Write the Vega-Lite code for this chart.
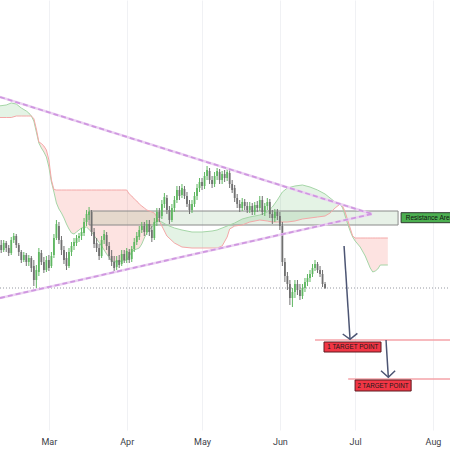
{
"$schema":"https://vega.github.io/schema/vega-lite/v6.json",
"width":450,"height":430,
"padding":{"left":0,"top":0,"right":0,"bottom":20},
"autosize":{"type":"none"},
"background":"#ffffff",
"config":{"view":{"stroke":null},"scale":{"continuousPadding":0}},
"datasets":{
"cd":[
{"d":"2024/02/11","o":179,"h":184,"l":171,"c":174},
{"d":"2024/02/12","o":174,"h":184,"l":172,"c":181},
{"d":"2024/02/13","o":181,"h":183,"l":172,"c":176},
{"d":"2024/02/14","o":176,"h":179,"l":168,"c":171},
{"d":"2024/02/15","o":171,"h":187,"l":169,"c":184},
{"d":"2024/02/16","o":184,"h":191,"l":181,"c":188},
{"d":"2024/02/17","o":188,"h":190,"l":176,"c":179},
{"d":"2024/02/18","o":179,"h":181,"l":168,"c":172},
{"d":"2024/02/19","o":172,"h":174,"l":161,"c":164},
{"d":"2024/02/20","o":164,"h":172,"l":162,"c":169},
{"d":"2024/02/21","o":169,"h":171,"l":158,"c":162},
{"d":"2024/02/22","o":162,"h":169,"l":158,"c":166},
{"d":"2024/02/23","o":166,"h":168,"l":152,"c":156},
{"d":"2024/02/24","o":158,"h":164,"l":138,"c":144},
{"d":"2024/02/25","o":144,"h":159,"l":136,"c":154},
{"d":"2024/02/26","o":152,"h":176,"l":148,"c":172},
{"d":"2024/02/27","o":171,"h":174,"l":159,"c":162},
{"d":"2024/02/28","o":162,"h":167,"l":151,"c":154},
{"d":"2024/02/29","o":154,"h":168,"l":152,"c":164},
{"d":"2024/03/01","o":164,"h":169,"l":153,"c":156},
{"d":"2024/03/02","o":158,"h":172,"l":156,"c":168},
{"d":"2024/03/03","o":169,"h":190,"l":166,"c":186},
{"d":"2024/03/04","o":186,"h":204,"l":184,"c":200},
{"d":"2024/03/05","o":198,"h":202,"l":180,"c":184},
{"d":"2024/03/06","o":184,"h":188,"l":169,"c":174},
{"d":"2024/03/07","o":174,"h":178,"l":160,"c":164},
{"d":"2024/03/08","o":166,"h":172,"l":154,"c":158},
{"d":"2024/03/09","o":158,"h":176,"l":156,"c":172},
{"d":"2024/03/10","o":172,"h":182,"l":168,"c":178},
{"d":"2024/03/11","o":178,"h":186,"l":174,"c":182},
{"d":"2024/03/12","o":181,"h":189,"l":178,"c":186},
{"d":"2024/03/13","o":186,"h":191,"l":182,"c":188},
{"d":"2024/03/14","o":188,"h":196,"l":184,"c":192},
{"d":"2024/03/15","o":191,"h":206,"l":188,"c":202},
{"d":"2024/03/16","o":202,"h":214,"l":198,"c":210},
{"d":"2024/03/17","o":209,"h":217,"l":204,"c":212},
{"d":"2024/03/18","o":212,"h":214,"l":188,"c":192},
{"d":"2024/03/19","o":192,"h":196,"l":176,"c":180},
{"d":"2024/03/20","o":181,"h":186,"l":172,"c":176},
{"d":"2024/03/21","o":176,"h":180,"l":164,"c":168},
{"d":"2024/03/22","o":168,"h":188,"l":166,"c":184},
{"d":"2024/03/23","o":184,"h":194,"l":180,"c":190},
{"d":"2024/03/24","o":189,"h":192,"l":174,"c":178},
{"d":"2024/03/25","o":178,"h":182,"l":164,"c":168},
{"d":"2024/03/26","o":168,"h":174,"l":158,"c":162},
{"d":"2024/03/27","o":162,"h":168,"l":152,"c":156},
{"d":"2024/03/28","o":157,"h":168,"l":154,"c":164},
{"d":"2024/03/29","o":164,"h":169,"l":156,"c":159},
{"d":"2024/03/30","o":160,"h":174,"l":158,"c":170},
{"d":"2024/03/31","o":170,"h":174,"l":161,"c":164},
{"d":"2024/04/01","o":164,"h":176,"l":161,"c":173},
{"d":"2024/04/02","o":172,"h":175,"l":161,"c":164},
{"d":"2024/04/03","o":165,"h":178,"l":162,"c":175},
{"d":"2024/04/04","o":175,"h":186,"l":172,"c":182},
{"d":"2024/04/05","o":182,"h":192,"l":179,"c":188},
{"d":"2024/04/06","o":187,"h":198,"l":184,"c":194},
{"d":"2024/04/07","o":194,"h":202,"l":191,"c":198},
{"d":"2024/04/08","o":198,"h":202,"l":188,"c":192},
{"d":"2024/04/09","o":192,"h":204,"l":189,"c":200},
{"d":"2024/04/10","o":200,"h":204,"l":188,"c":192},
{"d":"2024/04/11","o":194,"h":198,"l":182,"c":186},
{"d":"2024/04/12","o":186,"h":206,"l":184,"c":202},
{"d":"2024/04/13","o":202,"h":216,"l":198,"c":212},
{"d":"2024/04/14","o":212,"h":216,"l":202,"c":206},
{"d":"2024/04/15","o":208,"h":224,"l":205,"c":220},
{"d":"2024/04/16","o":220,"h":231,"l":216,"c":227},
{"d":"2024/04/17","o":226,"h":229,"l":210,"c":214},
{"d":"2024/04/18","o":214,"h":218,"l":200,"c":204},
{"d":"2024/04/19","o":204,"h":220,"l":202,"c":216},
{"d":"2024/04/20","o":216,"h":228,"l":212,"c":224},
{"d":"2024/04/21","o":224,"h":238,"l":221,"c":234},
{"d":"2024/04/22","o":234,"h":238,"l":224,"c":228},
{"d":"2024/04/23","o":229,"h":240,"l":226,"c":236},
{"d":"2024/04/24","o":235,"h":238,"l":225,"c":228},
{"d":"2024/04/25","o":228,"h":232,"l":217,"c":220},
{"d":"2024/04/26","o":220,"h":224,"l":210,"c":214},
{"d":"2024/04/27","o":214,"h":224,"l":211,"c":220},
{"d":"2024/04/28","o":220,"h":232,"l":217,"c":228},
{"d":"2024/04/29","o":228,"h":240,"l":224,"c":236},
{"d":"2024/04/30","o":236,"h":246,"l":232,"c":242},
{"d":"2024/05/01","o":242,"h":246,"l":234,"c":238},
{"d":"2024/05/02","o":238,"h":252,"l":235,"c":248},
{"d":"2024/05/03","o":248,"h":258,"l":244,"c":254},
{"d":"2024/05/04","o":253,"h":256,"l":240,"c":244},
{"d":"2024/05/05","o":244,"h":248,"l":236,"c":240},
{"d":"2024/05/06","o":240,"h":252,"l":237,"c":248},
{"d":"2024/05/07","o":248,"h":256,"l":244,"c":253},
{"d":"2024/05/08","o":252,"h":255,"l":240,"c":244},
{"d":"2024/05/09","o":244,"h":253,"l":240,"c":250},
{"d":"2024/05/10","o":250,"h":254,"l":242,"c":246},
{"d":"2024/05/11","o":246,"h":255,"l":243,"c":252},
{"d":"2024/05/12","o":251,"h":254,"l":236,"c":240},
{"d":"2024/05/13","o":240,"h":244,"l":231,"c":234},
{"d":"2024/05/14","o":236,"h":239,"l":222,"c":226},
{"d":"2024/05/15","o":226,"h":230,"l":216,"c":220},
{"d":"2024/05/16","o":220,"h":224,"l":212,"c":216},
{"d":"2024/05/17","o":216,"h":226,"l":213,"c":222},
{"d":"2024/05/18","o":222,"h":225,"l":214,"c":218},
{"d":"2024/05/19","o":218,"h":222,"l":211,"c":214},
{"d":"2024/05/20","o":214,"h":222,"l":211,"c":218},
{"d":"2024/05/21","o":218,"h":221,"l":209,"c":212},
{"d":"2024/05/22","o":212,"h":222,"l":209,"c":219},
{"d":"2024/05/23","o":219,"h":223,"l":212,"c":216},
{"d":"2024/05/24","o":216,"h":228,"l":213,"c":224},
{"d":"2024/05/25","o":224,"h":228,"l":209,"c":212},
{"d":"2024/05/26","o":212,"h":221,"l":208,"c":218},
{"d":"2024/05/27","o":218,"h":226,"l":214,"c":222},
{"d":"2024/05/28","o":222,"h":225,"l":206,"c":210},
{"d":"2024/05/29","o":210,"h":214,"l":200,"c":206},
{"d":"2024/05/30","o":206,"h":215,"l":202,"c":212},
{"d":"2024/05/31","o":212,"h":215,"l":204,"c":208},
{"d":"2024/06/01","o":208,"h":212,"l":194,"c":198},
{"d":"2024/06/02","o":198,"h":202,"l":158,"c":162},
{"d":"2024/06/03","o":162,"h":166,"l":142,"c":148},
{"d":"2024/06/04","o":148,"h":152,"l":134,"c":140},
{"d":"2024/06/05","o":140,"h":144,"l":119,"c":126},
{"d":"2024/06/06","o":126,"h":136,"l":117,"c":132},
{"d":"2024/06/07","o":132,"h":144,"l":126,"c":140},
{"d":"2024/06/08","o":140,"h":144,"l":129,"c":134},
{"d":"2024/06/09","o":134,"h":140,"l":124,"c":128},
{"d":"2024/06/10","o":128,"h":140,"l":125,"c":136},
{"d":"2024/06/11","o":136,"h":146,"l":132,"c":142},
{"d":"2024/06/12","o":142,"h":150,"l":138,"c":146},
{"d":"2024/06/13","o":146,"h":154,"l":142,"c":150},
{"d":"2024/06/14","o":150,"h":160,"l":147,"c":156},
{"d":"2024/06/15","o":156,"h":164,"l":153,"c":160},
{"d":"2024/06/16","o":160,"h":162,"l":151,"c":154},
{"d":"2024/06/17","o":154,"h":158,"l":147,"c":150},
{"d":"2024/06/18","o":150,"h":154,"l":137,"c":140},
{"d":"2024/06/19","o":140,"h":142,"l":135,"c":136}
],
"k":[
{"d":"2024/02/10","a":318,"b":306.5,"s":"1","t":"g"},
{"d":"2024/02/13","a":319,"b":306.5,"s":"1","t":"g"},
{"d":"2024/02/15","a":321,"b":306.5,"s":"1","t":"g"},
{"d":"2024/02/17","a":320,"b":308,"s":"1","t":"g"},
{"d":"2024/02/19","a":316,"b":308,"s":"1","t":"g"},
{"d":"2024/02/21","a":313,"b":308,"s":"1","t":"g"},
{"d":"2024/02/22","a":311,"b":308,"s":"1","t":"g"},
{"d":"2024/02/23","a":308,"b":308,"s":"1","t":"g"},
{"d":"2024/02/23","a":308,"b":308,"s":"2","t":"r"},
{"d":"2024/02/24","a":303,"b":305.5,"s":"2","t":"r"},
{"d":"2024/02/25","a":292,"b":295,"s":"2","t":"r"},
{"d":"2024/02/26","a":281,"b":282,"s":"2","t":"r"},
{"d":"2024/02/27","a":276,"b":280.5,"s":"2","t":"r"},
{"d":"2024/02/28","a":272,"b":278,"s":"2","t":"r"},
{"d":"2024/02/29","a":267,"b":274,"s":"2","t":"r"},
{"d":"2024/03/01","a":257,"b":264,"s":"2","t":"r"},
{"d":"2024/03/02","a":242,"b":244,"s":"2","t":"r"},
{"d":"2024/03/03","a":232,"b":234.5,"s":"2","t":"r"},
{"d":"2024/03/04","a":221,"b":234,"s":"2","t":"r"},
{"d":"2024/03/05","a":215,"b":234,"s":"2","t":"r"},
{"d":"2024/03/06","a":211,"b":234,"s":"2","t":"r"},
{"d":"2024/03/07","a":206,"b":234,"s":"2","t":"r"},
{"d":"2024/03/08","a":200,"b":234,"s":"2","t":"r"},
{"d":"2024/03/09","a":195,"b":234,"s":"2","t":"r"},
{"d":"2024/03/10","a":191,"b":234,"s":"2","t":"r"},
{"d":"2024/03/11","a":190,"b":234,"s":"2","t":"r"},
{"d":"2024/03/12","a":192,"b":234,"s":"2","t":"r"},
{"d":"2024/03/14","a":196,"b":234,"s":"2","t":"r"},
{"d":"2024/03/16","a":197,"b":234,"s":"2","t":"r"},
{"d":"2024/03/18","a":192,"b":234,"s":"2","t":"r"},
{"d":"2024/03/20","a":185,"b":234,"s":"2","t":"r"},
{"d":"2024/03/22","a":178,"b":234,"s":"2","t":"r"},
{"d":"2024/03/24","a":170,"b":234,"s":"2","t":"r"},
{"d":"2024/03/26","a":163,"b":234,"s":"2","t":"r"},
{"d":"2024/03/28","a":162,"b":234,"s":"2","t":"r"},
{"d":"2024/03/30","a":163,"b":234,"s":"2","t":"r"},
{"d":"2024/04/01","a":164,"b":234,"s":"2","t":"r"},
{"d":"2024/04/02","a":168,"b":230,"s":"2","t":"r"},
{"d":"2024/04/03","a":172,"b":228,"s":"2","t":"r"},
{"d":"2024/04/04","a":174,"b":225,"s":"2","t":"r"},
{"d":"2024/04/05","a":175,"b":223,"s":"2","t":"r"},
{"d":"2024/04/06","a":176,"b":220,"s":"2","t":"r"},
{"d":"2024/04/07","a":180,"b":218,"s":"2","t":"r"},
{"d":"2024/04/08","a":186,"b":216,"s":"2","t":"r"},
{"d":"2024/04/09","a":191,"b":214,"s":"2","t":"r"},
{"d":"2024/04/10","a":194,"b":213,"s":"2","t":"r"},
{"d":"2024/04/11","a":197,"b":212,"s":"2","t":"r"},
{"d":"2024/04/12","a":201,"b":211,"s":"2","t":"r"},
{"d":"2024/04/13","a":203,"b":207,"s":"2","t":"r"},
{"d":"2024/04/14","a":203,"b":203,"s":"2","t":"r"},
{"d":"2024/04/14","a":203,"b":203,"s":"3","t":"g"},
{"d":"2024/04/15","a":202,"b":198,"s":"3","t":"g"},
{"d":"2024/04/17","a":199,"b":188,"s":"3","t":"g"},
{"d":"2024/04/20","a":196,"b":181,"s":"3","t":"g"},
{"d":"2024/04/23","a":194,"b":177,"s":"3","t":"g"},
{"d":"2024/04/27","a":192,"b":176,"s":"3","t":"g"},
{"d":"2024/05/01","a":192,"b":176,"s":"3","t":"g"},
{"d":"2024/05/05","a":193,"b":176,"s":"3","t":"g"},
{"d":"2024/05/07","a":194,"b":176,"s":"3","t":"g"},
{"d":"2024/05/09","a":196,"b":178,"s":"3","t":"g"},
{"d":"2024/05/11","a":198,"b":187,"s":"3","t":"g"},
{"d":"2024/05/12","a":199,"b":195,"s":"3","t":"g"},
{"d":"2024/05/14","a":201,"b":198,"s":"3","t":"g"},
{"d":"2024/05/17","a":205,"b":199,"s":"3","t":"g"},
{"d":"2024/05/20","a":207,"b":202,"s":"3","t":"g"},
{"d":"2024/05/24","a":209,"b":204,"s":"3","t":"g"},
{"d":"2024/05/27","a":212,"b":203,"s":"3","t":"g"},
{"d":"2024/05/29","a":217,"b":202,"s":"3","t":"g"},
{"d":"2024/05/31","a":224,"b":202,"s":"3","t":"g"},
{"d":"2024/06/02","a":232,"b":202,"s":"3","t":"g"},
{"d":"2024/06/04","a":236,"b":202,"s":"3","t":"g"},
{"d":"2024/06/07","a":238,"b":203,"s":"3","t":"g"},
{"d":"2024/06/10","a":239,"b":205,"s":"3","t":"g"},
{"d":"2024/06/13","a":237,"b":206,"s":"3","t":"g"},
{"d":"2024/06/16","a":234,"b":207,"s":"3","t":"g"},
{"d":"2024/06/19","a":230,"b":208,"s":"3","t":"g"},
{"d":"2024/06/21","a":226,"b":211,"s":"3","t":"g"},
{"d":"2024/06/23","a":222,"b":216,"s":"3","t":"g"},
{"d":"2024/06/25","a":220,"b":220,"s":"3","t":"g"},
{"d":"2024/06/25","a":220,"b":220,"s":"4","t":"r"},
{"d":"2024/06/26","a":216,"b":218,"s":"4","t":"r"},
{"d":"2024/06/27","a":208,"b":212,"s":"4","t":"r"},
{"d":"2024/06/28","a":200,"b":204,"s":"4","t":"r"},
{"d":"2024/06/29","a":193,"b":196,"s":"4","t":"r"},
{"d":"2024/06/30","a":187,"b":188,"s":"4","t":"r"},
{"d":"2024/07/01","a":183,"b":186,"s":"4","t":"r"},
{"d":"2024/07/03","a":177,"b":186,"s":"4","t":"r"},
{"d":"2024/07/05","a":168,"b":186,"s":"4","t":"r"},
{"d":"2024/07/06","a":162,"b":186,"s":"4","t":"r"},
{"d":"2024/07/07","a":156,"b":186,"s":"4","t":"r"},
{"d":"2024/07/08","a":152,"b":186,"s":"4","t":"r"},
{"d":"2024/07/09","a":153,"b":186,"s":"4","t":"r"},
{"d":"2024/07/10","a":155,"b":186,"s":"4","t":"r"},
{"d":"2024/07/11","a":159,"b":186,"s":"4","t":"r"},
{"d":"2024/07/14","a":159,"b":186,"s":"4","t":"r"}
],
"tr":[
{"d":"2024/02/10 12:30","p":327,"id":"u"},{"d":"2024/07/07 17:00","p":210,"id":"u"},
{"d":"2024/02/10 12:30","p":126,"id":"l"},{"d":"2024/07/07 17:00","p":210,"id":"l"}
],
"pl":[{"d":"2024/02/10 12:30","d2":"2024/08/07 18:30","p":136}],
"tl":[{"d":"2024/06/15 00:00","d2":"2024/08/07 18:30","p":84},{"d":"2024/06/28 05:00","d2":"2024/08/07 18:30","p":45}],
"ar":[
{"d":"2024/06/26 13:40","p":178,"id":"a1","i":0},{"d":"2024/06/28 23:00","p":84.7,"id":"a1","i":1},
{"d":"2024/06/26 01:00","p":90,"id":"a1h","i":0},{"d":"2024/06/28 23:00","p":84.7,"id":"a1h","i":1},{"d":"2024/07/01 21:00","p":90.7,"id":"a1h","i":2},
{"d":"2024/07/13 07:00","p":84,"id":"a2","i":0},{"d":"2024/07/14 05:00","p":46.7,"id":"a2","i":1},
{"d":"2024/07/11 07:00","p":53.3,"id":"a2h","i":0},{"d":"2024/07/14 05:00","p":46.7,"id":"a2h","i":1},{"d":"2024/07/16 22:00","p":53.3,"id":"a2h","i":2}
],
"rr":[{"d":"2024/03/17 00:00","d2":"2024/07/18 02:00","p":213,"p2":199}],
"bx":[
{"d":"2024/07/19 07:00","d2":"2024/08/10 00:00","p":211.3,"p2":201.3,"k":"res"},
{"d":"2024/06/18 14:00","d2":"2024/07/11 07:00","p":82,"p2":72,"k":"tgt"},
{"d":"2024/06/30 23:00","d2":"2024/07/23 07:00","p":44,"p2":33,"k":"tgt"}
],
"t1":[{"d":"2024/07/21 04:00","p":206.3,"t":"Resistance Area"}],
"t2":[{"d":"2024/06/30 02:00","p":77,"t":"1 TARGET POINT"},{"d":"2024/07/12 02:00","p":38.5,"t":"2 TARGET POINT"}]
},
"encoding":{"x":{"field":"d","type":"temporal","title":null,
"scale":{"domain":[{"year":2024,"month":2,"date":10,"hours":12,"minutes":30},{"year":2024,"month":8,"date":7,"hours":18,"minutes":30}],"nice":false,"padding":0},
"axis":{"format":"%b","tickCount":{"interval":"month","step":1},"grid":true,"gridColor":"#f0f1f4","ticks":false,"domain":false,"labelFont":"Roboto","labelFontSize":9,"labelColor":"#3b3e47","labelPadding":7,"labelFlush":false}}},
"layer":[
{"data":{"name":"k"},"mark":{"type":"area","fillOpacity":0.15,"clip":true,"interpolate":"linear"},
"encoding":{"y":{"field":"a","type":"quantitative","title":null,"scale":{"domain":[-6,424],"nice":false,"zero":false,"padding":0},
"axis":{"values":[0,24,48,72,96,120,144,168,192,216,240,264,288,312,336,360,384,408],"grid":true,"gridColor":"#f0f1f4","labels":false,"ticks":false,"domain":false,"title":null}},
"y2":{"field":"b"},
"color":{"field":"t","type":"nominal","scale":{"domain":["g","r"],"range":["#4caf50","#f44336"]},"legend":null},
"detail":{"field":"s"}}},
{"data":{"name":"rr"},"mark":{"type":"rect","fill":"#388e3c","fillOpacity":0.12,"stroke":"#8a8a8a","strokeWidth":1},
"encoding":{"x2":{"field":"d2"},"y":{"field":"p","type":"quantitative","axis":null,"scale":{"domain":[-6,424],"padding":0}},"y2":{"field":"p2"}}},
{"data":{"name":"k"},"mark":{"type":"line","color":"#a5d6a7","strokeWidth":1,"clip":true},
"encoding":{"y":{"field":"a","type":"quantitative","axis":null,"scale":{"domain":[-6,424],"padding":0}}}},
{"data":{"name":"k"},"mark":{"type":"line","color":"#f4a8a8","strokeWidth":1,"clip":true},
"encoding":{"y":{"field":"b","type":"quantitative","axis":null,"scale":{"domain":[-6,424],"padding":0}}}},
{"data":{"name":"pl"},"mark":{"type":"rule","color":"#9598a1","strokeWidth":1,"strokeDash":[1,2]},
"encoding":{"x2":{"field":"d2"},"y":{"field":"p","type":"quantitative","axis":null,"scale":{"domain":[-6,424],"padding":0}}}},
{"data":{"name":"cd"},"mark":{"type":"rule","strokeWidth":1},
"encoding":{"y":{"field":"l","type":"quantitative","axis":null,"scale":{"domain":[-6,424],"padding":0}},"y2":{"field":"h"},
"color":{"condition":{"test":"datum.c >= datum.o","value":"#5fb761"},"value":"#707070"}}},
{"data":{"name":"cd"},"mark":{"type":"bar","width":1.8},
"encoding":{"y":{"field":"o","type":"quantitative","axis":null,"scale":{"domain":[-6,424],"padding":0}},"y2":{"field":"c"},
"color":{"condition":{"test":"datum.c >= datum.o","value":"#5fb761"},"value":"#707070"}}},
{"data":{"name":"tr"},"mark":{"type":"line","color":"#ecd2f2","strokeWidth":2.5,"clip":true},
"encoding":{"y":{"field":"p","type":"quantitative","axis":null,"scale":{"domain":[-6,424],"padding":0}},"detail":{"field":"id"}}},
{"data":{"name":"tr"},"mark":{"type":"line","color":"#cf97e0","strokeWidth":1.8,"strokeDash":[5,3],"clip":true},
"encoding":{"y":{"field":"p","type":"quantitative","axis":null,"scale":{"domain":[-6,424],"padding":0}},"detail":{"field":"id"}}},
{"data":{"name":"tl"},"mark":{"type":"rule","color":"#f5a3a8","strokeWidth":1.5},
"encoding":{"x2":{"field":"d2"},"y":{"field":"p","type":"quantitative","axis":null,"scale":{"domain":[-6,424],"padding":0}}}},
{"data":{"name":"ar"},"mark":{"type":"line","color":"#4c5573","strokeWidth":1.5},
"encoding":{"y":{"field":"p","type":"quantitative","axis":null,"scale":{"domain":[-6,424],"padding":0}},"detail":{"field":"id"},"order":{"field":"i"}}},
{"data":{"name":"bx"},"mark":{"type":"rect","strokeWidth":1,"clip":true},
"encoding":{"x2":{"field":"d2"},"y":{"field":"p","type":"quantitative","axis":null,"scale":{"domain":[-6,424],"padding":0}},"y2":{"field":"p2"},
"fill":{"field":"k","type":"nominal","scale":{"domain":["res","tgt"],"range":["#4caf50","#f23645"]},"legend":null},
"stroke":{"field":"k","type":"nominal","scale":{"domain":["res","tgt"],"range":["#2f3a30","#5e1a20"]},"legend":null}}},
{"data":{"name":"t1"},"mark":{"type":"text","align":"left","baseline":"middle","font":"Liberation Sans","fontSize":6.5,"color":"#111111"},
"encoding":{"y":{"field":"p","type":"quantitative","axis":null,"scale":{"domain":[-6,424],"padding":0}},"text":{"field":"t"}}},
{"data":{"name":"t2"},"mark":{"type":"text","align":"center","baseline":"middle","font":"Liberation Sans","fontSize":6.3,"color":"#1a1a1a"},
"encoding":{"y":{"field":"p","type":"quantitative","axis":null,"scale":{"domain":[-6,424],"padding":0}},"text":{"field":"t"}}}
]
}
